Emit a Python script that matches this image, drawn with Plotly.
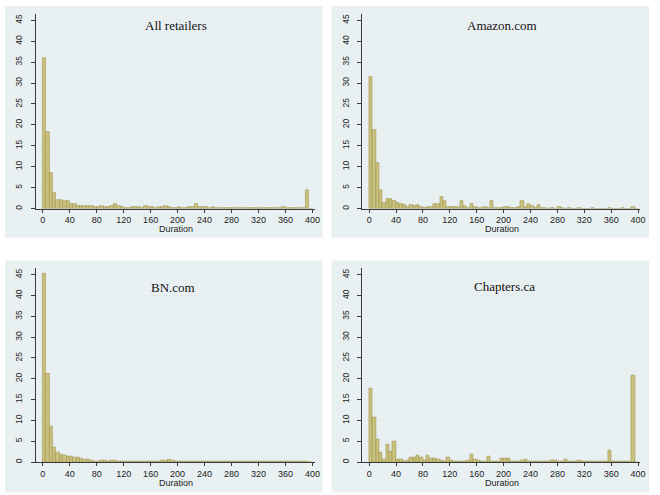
import plotly.graph_objects as go

# Bins of width 5 starting at 0 (0, 5, ..., 395)
bin_starts = list(range(0, 400, 5))
bin_width = 5

panel_titles = ["All retailers", "Amazon.com", "BN.com", "Chapters.ca"]
x_title = "Duration"

all_retailers = [
    36.0, 18.3, 8.4, 3.7, 2.0, 2.1, 1.8, 1.8, 1.2, 1.0,      # 0-45
    0.7, 0.6, 0.6, 0.6, 0.6, 0.4, 0.3, 0.6, 0.4, 0.5,        # 50-95
    0.6, 1.0, 0.7, 0.4, 0.2, 0.2, 0.3, 0.5, 0.3, 0.2,        # 100-145
    0.6, 0.3, 0.5, 0.2, 0.3, 0.5, 0.6, 0.5, 0.2, 0.2,        # 150-195
    0.3, 0.2, 0.2, 0.3, 0.3, 1.0, 0.3, 0.3, 0.3, 0.2,        # 200-245
    0.3, 0.1, 0.1, 0.1, 0.1, 0.1, 0.1, 0.1, 0.1, 0.1,        # 250-295
    0.1, 0.1, 0.1, 0.1, 0.1, 0.1, 0.1, 0.1, 0.1, 0.1,        # 300-345
    0.1, 0.4, 0.1, 0.1, 0.1, 0.1, 0.1, 0.1, 4.5, 0.0,        # 350-395
]

amazon = [
    31.5, 18.7, 10.9, 4.4, 1.4, 2.3, 2.2, 1.7, 1.3, 1.0,     # 0-45
    0.8, 0.5, 0.9, 0.6, 0.9, 0.5, 0.2, 0.5, 0.3, 1.0,        # 50-95
    1.1, 2.8, 1.8, 0.5, 0.3, 0.3, 0.5, 1.9, 0.7, 0.2,        # 100-145
    1.1, 0.3, 0.2, 0.2, 0.4, 0.2, 1.9, 0.1, 0.1, 0.2,        # 150-195
    0.4, 0.3, 0.1, 0.2, 0.4, 1.9, 0.5, 1.0, 0.6, 0.2,        # 200-245
    0.8, 0.2, 0.1, 0.0, 0.1, 0.0, 0.3, 0.1, 0.0, 0.1,        # 250-295
    0.0, 0.0, 0.1, 0.0, 0.0, 0.0, 0.1, 0.0, 0.0, 0.0,        # 300-345
    0.0, 0.1, 0.0, 0.0, 0.0, 0.1, 0.0, 0.0, 0.4, 0.0,        # 350-395
]

bn = [
    45.2, 21.3, 8.5, 3.6, 2.4, 1.8, 1.5, 1.4, 1.4, 1.2,      # 0-45
    1.0, 0.8, 0.7, 0.6, 0.5, 0.2, 0.2, 0.5, 0.3, 0.2,        # 50-95
    0.3, 0.3, 0.2, 0.2, 0.2, 0.1, 0.2, 0.1, 0.1, 0.1,        # 100-145
    0.2, 0.1, 0.1, 0.1, 0.2, 0.5, 0.3, 0.6, 0.4, 0.2,        # 150-195
    0.1, 0.1, 0.1, 0.1, 0.1, 0.1, 0.2, 0.1, 0.1, 0.1,        # 200-245
    0.1, 0.1, 0.1, 0.1, 0.1, 0.1, 0.1, 0.1, 0.1, 0.1,        # 250-295
    0.1, 0.1, 0.1, 0.1, 0.1, 0.1, 0.1, 0.1, 0.1, 0.1,        # 300-345
    0.1, 0.1, 0.1, 0.1, 0.1, 0.1, 0.1, 0.1, 0.1, 0.0,        # 350-395
]

chapters = [
    17.6, 10.8, 5.4, 2.3, 0.6, 4.3, 2.6, 5.0, 0.7, 0.7,      # 0-45
    0.1, 0.5, 1.0, 1.0, 1.5, 1.0, 0.5, 1.7, 0.8, 0.8,        # 50-95
    0.6, 0.5, 0.2, 1.0, 0.3, 0.2, 0.2, 0.1, 0.1, 0.3,        # 100-145
    1.8, 0.7, 0.5, 0.1, 0.2, 1.4, 0.2, 0.1, 0.1, 0.8,        # 150-195
    0.8, 0.8, 0.2, 0.1, 0.2, 0.3, 0.6, 0.1, 0.1, 0.1,        # 200-245
    0.1, 0.1, 0.1, 0.1, 0.4, 0.3, 0.1, 0.1, 0.7, 0.1,        # 250-295
    0.1, 0.1, 0.5, 0.2, 0.2, 0.2, 0.2, 0.1, 0.2, 0.1,        # 300-345
    0.1, 2.9, 0.1, 0.1, 0.1, 0.1, 0.2, 0.2, 20.7, 0.0,       # 350-395
]

x_ticks = list(range(0, 401, 40))
y_ticks = list(range(0, 46, 5))

series = [all_retailers, amazon, bn, chapters]

W, H = 660, 495
# pixel boxes: (outer panel box), (plot area)
outer_boxes = [(5, 6, 325, 238), (334, 6, 654, 238), (5, 261, 325, 493), (334, 261, 654, 493)]
plot_boxes = [(36, 14, 317, 209), (365, 14, 645, 209), (36, 269, 317, 463), (365, 269, 645, 463)]
title_pos = [(177, 26), (506, 26), (174, 288), (508, 287)]
xlabel_pos = [(177, 229.5), (506, 229.5), (177, 484), (506, 484)]

bar_fill = "rgb(201,193,125)"
bar_line = "rgb(160,150,80)"
axis_col = "#3a3a3a"
grid_col = "#e4ecee"
panel_bg = "#e9f0f2"
sans = "Liberation Sans, Arial"

fig = go.Figure()
shapes = []
annotations = []
layout = {}

for k, (vals, ttl) in enumerate(zip(series, panel_titles)):
    idx = "" if k == 0 else str(k + 1)
    xa = "x" + idx
    ya = "y" + idx
    fig.add_trace(go.Bar(
        x=[s + bin_width / 2 for s in bin_starts], y=vals, width=bin_width,
        marker=dict(color=bar_fill, line=dict(color=bar_line, width=0.6)),
        xaxis=xa, yaxis=ya, showlegend=False, hoverinfo="x+y",
    ))
    x0, y0, x1, y1 = plot_boxes[k]
    layout["xaxis" + idx] = dict(
        domain=[x0 / W, x1 / W], anchor=ya, range=[-10.3, 403],
        tickmode="array", tickvals=x_ticks, ticks="outside", ticklen=3,
        tickcolor=axis_col, showline=True, linecolor=axis_col, linewidth=1,
        showgrid=False, zeroline=False,
        tickfont=dict(family=sans, size=9, color="#222"),
    )
    layout["yaxis" + idx] = dict(
        domain=[1 - y1 / H, 1 - y0 / H], anchor=xa, range=[0, 46.5],
        tickmode="array", tickvals=y_ticks, ticks="outside", ticklen=4,
        tickcolor=axis_col, showline=True, linecolor=axis_col, linewidth=1,
        showgrid=True, gridcolor=grid_col, gridwidth=1, zeroline=False,
        tickangle=-90, ticklabelstandoff=5,
        tickfont=dict(family=sans, size=8.5, color="#222"),
    )
    ox0, oy0, ox1, oy1 = outer_boxes[k]
    shapes.append(dict(type="rect", xref="paper", yref="paper",
                       x0=ox0 / W, x1=ox1 / W, y0=1 - oy1 / H, y1=1 - oy0 / H,
                       fillcolor=panel_bg, line=dict(width=0), layer="below"))
    tx, ty = title_pos[k]
    annotations.append(dict(text=ttl, xref="paper", yref="paper",
                            x=tx / W, y=1 - ty / H, showarrow=False,
                            xanchor="center", yanchor="middle",
                            font=dict(family="Liberation Serif, Times New Roman", size=13, color="#111")))
    lx, ly = xlabel_pos[k]
    annotations.append(dict(text=x_title, xref="paper", yref="paper",
                            x=lx / W, y=1 - ly / H, showarrow=False,
                            xanchor="center", yanchor="middle",
                            font=dict(family=sans, size=9, color="#222")))

fig.update_layout(
    width=W, height=H, margin=dict(l=0, r=0, t=0, b=0),
    paper_bgcolor="white", plot_bgcolor="white",
    shapes=shapes, annotations=annotations, bargap=0, **layout,
)

fig.write_html("out.html")
